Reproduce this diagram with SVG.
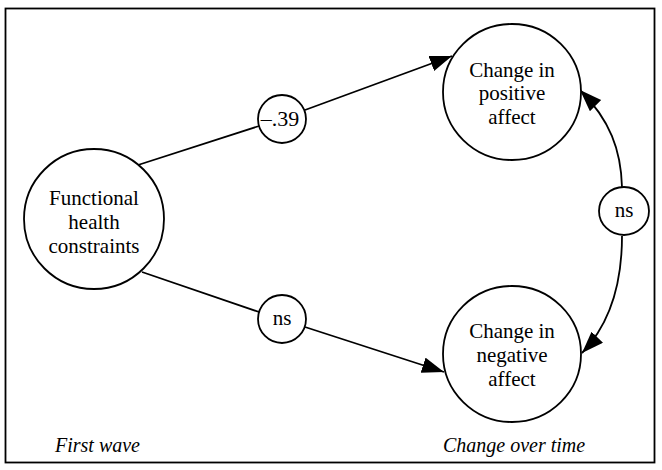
<svg xmlns="http://www.w3.org/2000/svg" width="662" height="470" viewBox="0 0 662 470">
  <style>
    .node { fill: #fff; stroke: #000; stroke-width: 1.8; }
    .lbl { font-family: "Liberation Serif", "DejaVu Serif", serif; font-size: 21px; fill: #000; text-anchor: middle; }
    .cap { font-family: "Liberation Serif", "DejaVu Serif", serif; font-size: 20px; font-style: italic; fill: #000; }
    .edge { fill: none; stroke: #000; stroke-width: 1.8; }
  </style>
  <defs>
    <marker id="arrow" markerUnits="userSpaceOnUse" markerWidth="24" markerHeight="18" refX="22" refY="8" orient="auto">
      <path d="M0,0 L22,8 L0,16 Z" fill="#000"/>
    </marker>
  </defs>

  <rect x="0" y="0" width="662" height="470" fill="#fff"/>
  <!-- outer frame -->
  <rect x="5.5" y="8.5" width="649" height="454" fill="none" stroke="#000" stroke-width="1.8"/>

  <!-- connectors -->
  <g id="connectors">
    <line class="edge" x1="138" y1="165" x2="259" y2="126"/>
    <line class="edge" x1="305" y1="110" x2="452" y2="56" marker-end="url(#arrow)"/>
    <line class="edge" x1="142" y1="272" x2="259" y2="312"/>
    <line class="edge" x1="305" y1="327" x2="444" y2="372" marker-end="url(#arrow)"/>
    <path class="edge" d="M622,187 C621,150 610,120 580,90" marker-end="url(#arrow)"/>
    <path class="edge" d="M622,236 C622,280 612,322 582,353" marker-end="url(#arrow)"/>
  </g>

  <g id="functional-health">
    <ellipse class="node" cx="94" cy="219" rx="70" ry="70"/>
    <text class="lbl" x="94" y="205">Functional</text>
    <text class="lbl" x="94" y="229">health</text>
    <text class="lbl" x="94" y="253">constraints</text>
  </g>

  <g id="positive-affect">
    <ellipse class="node" cx="512" cy="92" rx="69" ry="68"/>
    <text class="lbl" x="512" y="77">Change in</text>
    <text class="lbl" x="512" y="100">positive</text>
    <text class="lbl" x="512" y="124">affect</text>
  </g>

  <g id="negative-affect">
    <ellipse class="node" cx="512" cy="354" rx="69" ry="68"/>
    <text class="lbl" x="512" y="338">Change in</text>
    <text class="lbl" x="512" y="362">negative</text>
    <text class="lbl" x="512" y="386">affect</text>
  </g>

  <g id="coef-upper">
    <ellipse class="node" cx="282" cy="119" rx="24" ry="24"/>
    <text class="lbl" x="280" y="126" style="font-size:22px">–.39</text>
  </g>

  <g id="coef-lower">
    <ellipse class="node" cx="282" cy="319" rx="24" ry="24"/>
    <text class="lbl" x="282" y="325">ns</text>
  </g>

  <g id="coef-right">
    <ellipse class="node" cx="624" cy="211" rx="25" ry="24"/>
    <text class="lbl" x="624" y="217">ns</text>
  </g>

  <text class="cap" x="55" y="452">First wave</text>
  <text class="cap" x="443" y="452">Change over time</text>
</svg>
